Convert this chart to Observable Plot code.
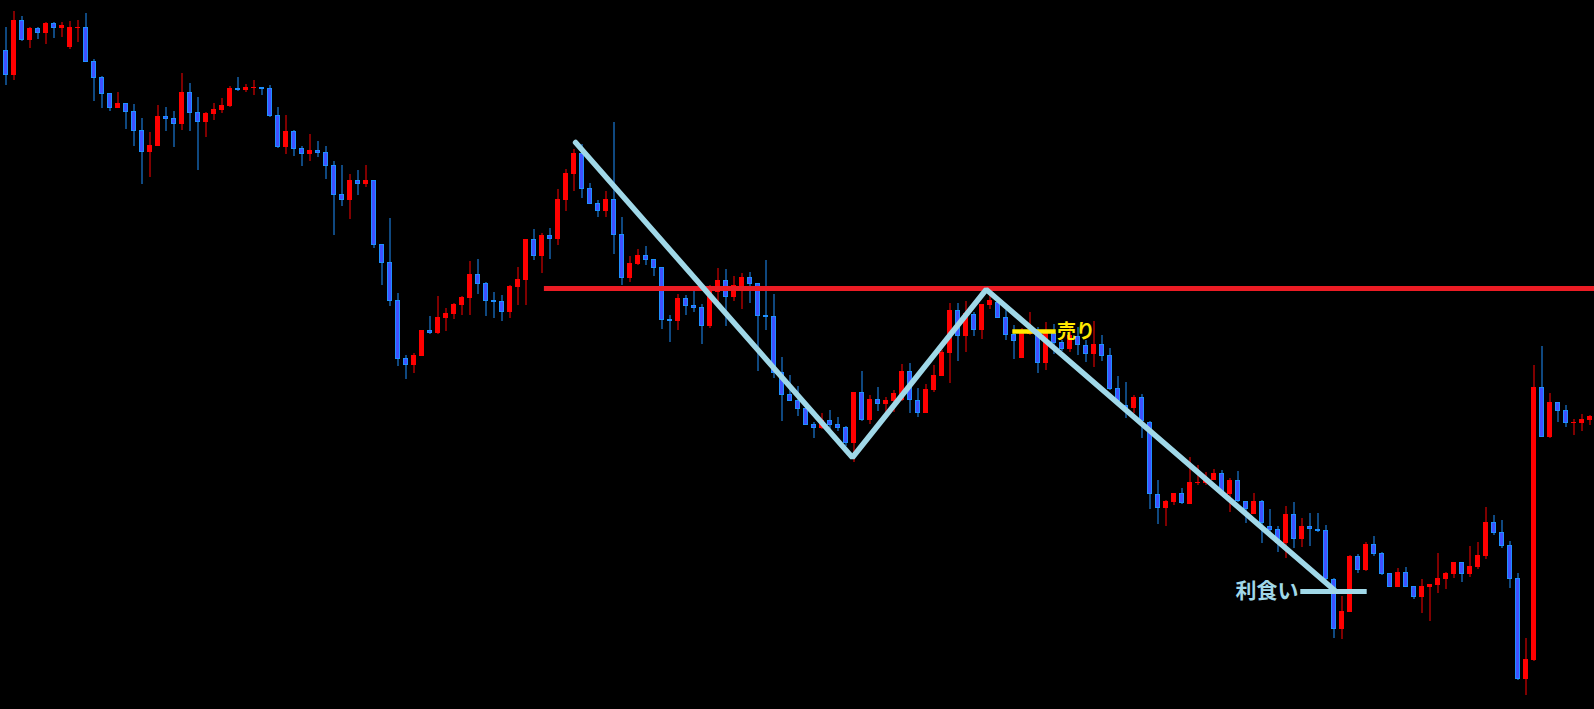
<!DOCTYPE html>
<html>
<head>
<meta charset="utf-8">
<script src="https://cdn.jsdelivr.net/npm/d3@7"></script>
<script src="https://cdn.jsdelivr.net/npm/@observablehq/plot@0.6"></script>
<style>
  html, body { margin: 0; padding: 0; background: #000; overflow: hidden; }
  #chart svg { display: block; }
</style>
</head>
<body>
<div id="chart"></div>
<script>
// Candle prices (arbitrary price units)
const open = [950,925,980,960,972,967,977,972,953,972,973,939,923,907,892,897,889,870,848,854,884,882,876,908,888,878,886,890,894,912,910,912,913,912,885,853,869,852,846,850,848,835,806,800,820,816,820,756,738,700,642,635,644,670,667,682,686,695,702,726,717,700,699,688,713,720,761,744,765,761,800,826,847,812,797,789,801,766,722,736,745,741,733,681,679,702,695,693,674,708,720,703,709,723,717,685,684,628,606,600,592,576,572,580,576,573,557,608,580,601,596,599,600,629,600,587,610,624,647,690,664,686,670,695,698,683,666,642,666,670,637,667,658,651,664,655,646,656,645,612,595,592,603,578,506,492,498,507,496,517,517,520,527,506,520,499,486,499,474,471,457,486,461,474,471,470,421,371,388,444,430,456,447,427,413,428,414,403,413,415,421,426,438,426,433,444,478,468,455,422,321,340,613,563,598,590,577,577,580];
const high = [973,989,984,973,973,978,978,978,979,980,987,941,924,907,908,897,896,882,868,895,893,889,927,917,903,888,897,902,914,923,916,920,913,915,893,885,870,854,866,859,854,839,835,826,830,835,820,756,782,707,645,647,670,684,704,692,697,704,739,741,718,708,705,715,733,761,771,767,772,811,831,851,856,817,800,809,878,783,744,751,754,741,733,685,706,705,710,696,715,732,731,724,727,728,717,740,706,643,625,614,595,578,587,590,583,574,608,629,605,613,603,610,636,637,612,616,635,650,697,697,699,688,696,705,700,690,675,672,688,673,678,676,660,673,673,660,679,665,652,624,618,605,606,579,520,500,507,512,543,535,528,531,530,522,529,499,507,500,491,474,494,498,482,487,487,475,422,404,445,446,458,464,448,427,432,433,414,421,416,447,428,438,438,454,458,493,485,480,459,427,362,635,654,607,598,595,581,586,585];
const low = [915,920,959,952,961,956,962,963,951,958,938,899,892,889,892,871,854,816,823,854,869,853,870,869,830,863,880,887,893,909,908,905,905,883,852,846,844,834,839,843,821,765,794,781,805,813,752,715,694,634,621,627,644,666,666,669,681,685,685,706,684,682,679,682,695,695,740,727,741,755,789,809,802,796,783,783,746,715,718,735,735,724,671,658,670,685,688,656,672,698,674,699,691,697,629,670,622,579,599,584,575,562,571,570,569,554,538,579,576,589,588,588,599,587,583,587,608,624,617,639,648,664,661,691,682,660,641,642,665,627,630,646,649,648,645,638,633,639,610,594,582,587,562,491,476,474,495,496,496,515,515,520,505,488,498,477,486,457,463,448,442,452,453,454,468,420,362,361,388,427,429,444,425,413,413,413,401,387,379,407,411,422,418,423,431,441,465,452,412,320,305,339,563,562,578,573,565,569,575];
const close = [925,980,960,972,967,977,972,975,973,973,938,922,906,892,897,888,869,848,855,884,881,876,908,887,878,887,891,895,912,910,913,913,911,884,853,869,851,846,850,847,834,805,800,820,816,820,755,737,699,641,635,645,670,667,683,687,696,703,726,716,699,698,688,714,721,761,744,765,761,801,827,847,811,796,789,801,765,722,737,745,740,732,680,679,702,694,692,674,710,720,703,715,723,716,684,683,627,605,599,591,575,572,580,575,572,557,608,580,601,596,600,607,629,600,587,611,625,648,690,664,687,670,696,700,682,665,659,667,670,637,668,657,651,665,655,646,656,644,611,599,592,603,579,506,492,499,507,497,518,518,520,527,506,520,499,491,499,477,470,457,486,461,474,471,469,421,371,389,444,430,456,446,426,413,428,413,403,414,416,422,427,438,426,434,445,478,467,454,421,321,341,613,563,598,589,577,578,581,584];

// Annotations
const resistanceLevel = 712;          // horizontal red line
const resistanceFrom = 67.3;           // candle index where it starts
const zigzagIndex = [71.2, 105.8, 122.53, 166.1];
const zigzagPrice = [858, 543, 711, 410];
const sellLevel = 669;   const sellFrom = 125.85; const sellTo = 131.28;
const takeLevel = 409;   const takeFrom = 161.85; const takeTo = 170.15;
const sellLabel = "売り";
const takeLabel = "利食い";

const RED = "#ff0000", BLUE_FILL = "#3f51ff", BLUE_LINE = "#1e90ff";
const XMIN = -0.6875, XMAX = 198.5625;

const candles = d3.range(open.length).map(i => ({
  i, o: open[i], h: high[i], l: low[i], c: close[i], up: close[i] > open[i]
}));
const ups = candles.filter(d => d.up);
const downs = candles.filter(d => !d.up);
const zig = zigzagIndex.map((x, k) => ({x, y: zigzagPrice[k]}));

const chart = Plot.plot({
  width: 1594,
  height: 709,
  margin: 0,
  style: {background: "#000"},
  x: {type: "linear", domain: [XMIN, XMAX], axis: null},
  y: {domain: [291, 1000], axis: null},
  marks: [
    Plot.ruleX(candles, {x: "i", y1: "l", y2: "h", stroke: d => d.up ? RED : BLUE_LINE, strokeWidth: 1}),
    Plot.rect(ups, {x1: d => d.i - 0.3125, x2: d => d.i + 0.3125, y1: "o", y2: "c", fill: RED}),
    Plot.rect(downs, {x1: d => d.i - 0.25, x2: d => d.i + 0.25, y1: "c", y2: "o", fill: BLUE_FILL, stroke: BLUE_LINE, strokeWidth: 1, insetTop: 0.5, insetBottom: 0.5}),
    Plot.ruleY([resistanceLevel], {x1: resistanceFrom, x2: XMAX, stroke: "#ec1c24", strokeWidth: 5}),
    Plot.ruleY([sellLevel], {x1: sellFrom, x2: sellTo, stroke: "#ffe800", strokeWidth: 4.5}),
    Plot.ruleY([takeLevel], {x1: takeFrom, x2: takeTo, stroke: "#a0d8e8", strokeWidth: 5}),
    Plot.line(zig, {x: "x", y: "y", stroke: "#a0d8e8", strokeWidth: 5.5, strokeLinecap: "round", strokeLinejoin: "miter"}),
    Plot.text([sellLabel], {x: sellTo + 0.1, y: sellLevel, text: d => d, textAnchor: "start", lineAnchor: "middle", fill: "#ffe800", fontSize: 19, fontWeight: "bold", fontFamily: "'Noto Sans CJK JP', sans-serif"}),
    Plot.text([takeLabel], {x: takeFrom - 0.3, y: takeLevel, text: d => d, textAnchor: "end", lineAnchor: "middle", fill: "#a0d8e8", fontSize: 21, fontWeight: "bold", fontFamily: "'Noto Sans CJK JP', sans-serif"})
  ]
});
document.getElementById("chart").appendChild(chart);
</script>
</body>
</html>
